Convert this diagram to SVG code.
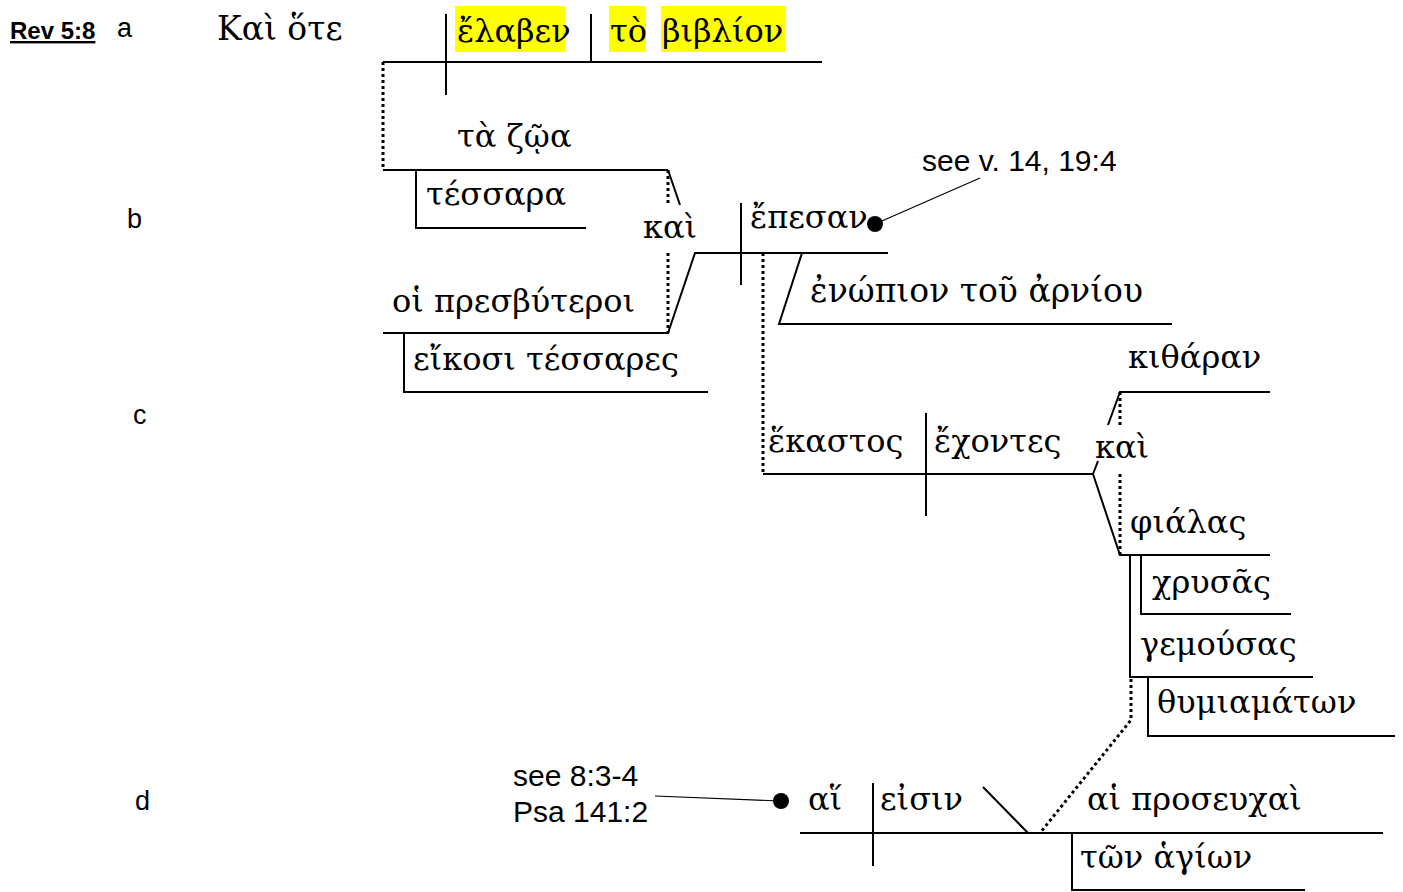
<svg xmlns="http://www.w3.org/2000/svg" width="1403" height="892" viewBox="0 0 1403 892">
<style>
.l{stroke:#000;stroke-width:2;fill:none}
.d{stroke:#000;stroke-width:3;stroke-dasharray:3,3;fill:none}
.thin{stroke:#000;stroke-width:1.2;fill:none}
.g{font-family:"DejaVu Serif","Liberation Serif",serif;font-size:32px;fill:#000}
.s{font-family:"Liberation Sans",Arial,sans-serif;font-size:30px;fill:#000}
.lb{font-family:"Liberation Sans",Arial,sans-serif;font-size:27px;fill:#000}
.hl{fill:#ffff00}
</style>
<rect width="1403" height="892" fill="#fff"/>
<g id="connectors">
<path class="l" d="M383 62H822M446 14V95M591 14V62"/>
<path class="d" d="M383 62V170"/>
<path class="l" d="M383 170H668M416 170V228H586"/>
<path class="d" d="M668 170V205M668 253V333"/>
<path class="l" d="M668 170L680 205"/>
<path class="l" d="M383 333H668L695 253H888M404 333V392H708"/>
<path class="l" d="M741 203V285"/>
<path class="l" d="M802 253L779 324H1172"/>
<path class="d" d="M763 253V474"/>
<path class="l" d="M763 474H1093M926 413V516"/>
<path class="l" d="M1093 474L1098 461M1093 474L1120 555H1270M1108 425L1120 392H1270"/>
<path class="d" d="M1120 392V425M1120 474V555"/>
<path class="l" d="M1141 555V614H1291M1130 555V677H1313M1148 677V736H1395"/>
<path class="d" d="M1131 679V720L1040 833"/>
<path class="l" d="M800 833H1383M873 783V866M983 787L1028 833M1072 833V890H1305"/>
<path class="thin" d="M875 224L980 178M655 796L781 801"/>
<circle cx="875" cy="224" r="8"/>
<circle cx="781" cy="801" r="8"/>
</g>
<g id="labels">
<text class="lb" x="10" y="39" style="font-size:24px;font-weight:bold;text-decoration:underline">Rev 5:8</text>
<text class="lb" x="117" y="37">a</text>
<text class="lb" x="127" y="228">b</text>
<text class="lb" x="133" y="424">c</text>
<text class="lb" x="135" y="810">d</text>
</g>
<g id="n-kai-hote"><text class="g" x="217" y="40" style="font-size:33px">Καὶ ὅτε</text></g>
<g id="n-elaben"><rect class="hl" x="455" y="6" width="110" height="46"/><text class="g" x="457" y="42">ἔλαβεν</text></g>
<g id="n-to-biblion"><rect class="hl" x="609" y="6" width="37" height="46"/><rect class="hl" x="661" y="6" width="125" height="46"/><text class="g" x="610" y="42">τὸ <tspan x="662">βιβλίον</tspan></text></g>
<g id="n-ta-zoa"><text class="g" x="457" y="147">τὰ ζῷα</text></g>
<g id="n-tessara"><text class="g" x="426" y="205">τέσσαρα</text></g>
<g id="n-kai1"><text class="g" x="643" y="238">καὶ</text></g>
<g id="n-presbyteroi"><text class="g" x="392" y="312">οἱ πρεσβύτεροι</text></g>
<g id="n-eikosi"><text class="g" x="413" y="370">εἴκοσι τέσσαρες</text></g>
<g id="n-epesan"><text class="g" x="750" y="228">ἔπεσαν</text></g>
<g id="n-note1"><text class="s" x="922" y="171">see v. 14, 19:4</text></g>
<g id="n-enopion"><text class="g" x="810" y="302" style="font-size:33px">ἐνώπιον τοῦ ἀρνίου</text></g>
<g id="n-kitharan"><text class="g" x="1128" y="368">κιθάραν</text></g>
<g id="n-hekastos"><text class="g" x="768" y="452">ἕκαστος</text></g>
<g id="n-echontes"><text class="g" x="934" y="452">ἔχοντες</text></g>
<g id="n-kai2"><text class="g" x="1095" y="458">καὶ</text></g>
<g id="n-phialas"><text class="g" x="1130" y="533">φιάλας</text></g>
<g id="n-chrysas"><text class="g" x="1152" y="593">χρυσᾶς</text></g>
<g id="n-gemousas"><text class="g" x="1140" y="655">γεμούσας</text></g>
<g id="n-thymiamaton"><text class="g" x="1157" y="713">θυμιαμάτων</text></g>
<g id="n-hai"><text class="g" x="808" y="810">αἵ</text></g>
<g id="n-eisin"><text class="g" x="880" y="810">εἰσιν</text></g>
<g id="n-proseuchai"><text class="g" x="1087" y="810">αἱ προσευχαὶ</text></g>
<g id="n-hagion"><text class="g" x="1080" y="868">τῶν ἁγίων</text></g>
<g id="n-note2"><text class="s" x="513" y="786">see 8:3-4</text><text class="s" x="513" y="822">Psa 141:2</text></g>
</svg>
